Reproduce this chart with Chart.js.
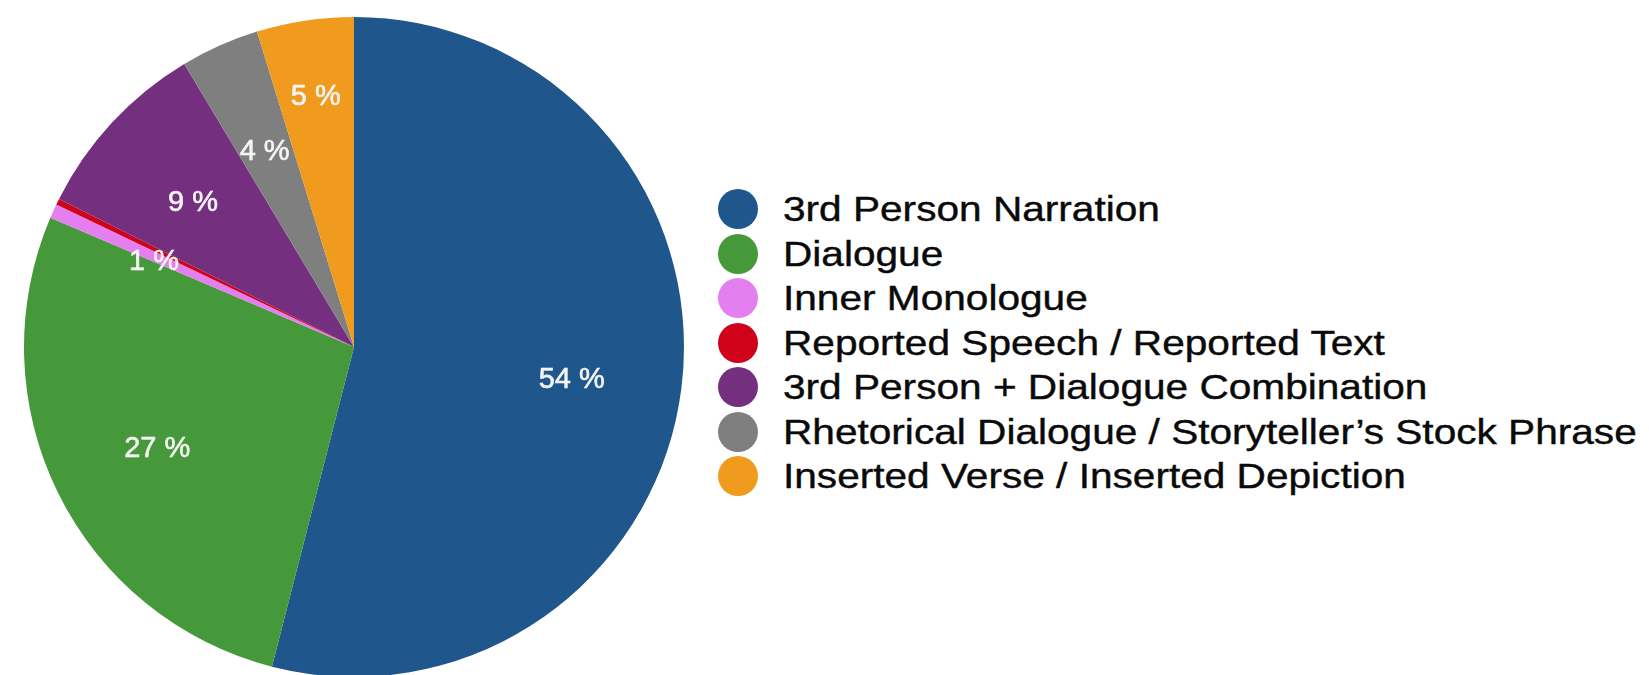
<!DOCTYPE html>
<html>
<head>
<meta charset="utf-8">
<title>Narrative modes</title>
<script src="https://cdn.jsdelivr.net/npm/chart.js@4.4.1/dist/chart.umd.min.js"></script>
<style>
  html, body { margin: 0; padding: 0; background: #fff; overflow: hidden; width: 1649px; height: 675px; }
  #wrap { position: absolute; left: 0; top: 0; width: 708px; height: 690px; }
  #legend {
    position: absolute; left: 718px; top: 187px; margin: 0; padding: 0; list-style: none;
    font-family: 'Liberation Sans', Arial, sans-serif; font-size: 35px; color: #0a0a0a;
  }
  #legend li { display: flex; align-items: center; height: 44.5px; white-space: nowrap; }
  #legend .dot { width: 40px; height: 40px; border-radius: 50%; margin-right: 25px; flex: none; }
  #legend .txt { display: inline-block; transform: scaleX(1.16); transform-origin: left center; -webkit-text-stroke: 0.4px #0a0a0a; }
</style>
</head>
<body>
<div id="wrap"><canvas id="pie" width="708" height="690"></canvas></div>
<ul id="legend"></ul>
<script>
  const categories = [
    '3rd Person Narration',
    'Dialogue',
    'Inner Monologue',
    'Reported Speech / Reported Text',
    '3rd Person + Dialogue Combination',
    'Rhetorical Dialogue / Storyteller\u2019s Stock Phrase',
    'Inserted Verse / Inserted Depiction'
  ];
  const shares = [54, 27.4, 0.7, 0.3, 9.0, 3.85, 4.75]; // percent
  const sliceColors = ['#1f568c', '#45993a', '#e47ff0', '#d0021b', '#74307f', '#7f7f7f', '#f09b1e'];

  // percentage labels inside the slices
  const sliceLabels = {
    id: 'sliceLabels',
    afterDatasetsDraw (chart, args, opts) {
      const { ctx } = chart;
      const meta = chart.getDatasetMeta(0);
      ctx.save();
      ctx.font = '29px "Liberation Sans", Arial, sans-serif';
      ctx.fillStyle = '#f4f4f4';
      ctx.strokeStyle = '#f4f4f4';
      ctx.lineWidth = 0.6;
      ctx.textAlign = 'center';
      ctx.textBaseline = 'middle';
      meta.data.forEach((arc, i) => {
        const pct = Math.round(shares[i]);
        if (!pct) return;
        const { x, y, startAngle, endAngle, outerRadius } =
          arc.getProps(['x', 'y', 'startAngle', 'endAngle', 'outerRadius'], true);
        const mid = (startAngle + endAngle) / 2;
        const r = outerRadius * (opts.radiusFor[i] || opts.radius);
        const tx = x + Math.cos(mid) * r;
        const ty = y + Math.sin(mid) * r + opts.dy;
        ctx.fillText(pct + ' %', tx, ty);
        ctx.strokeText(pct + ' %', tx, ty);
      });
      ctx.restore();
    }
  };

  // html legend built from the chart's own items
  const htmlLegend = {
    id: 'htmlLegend',
    afterUpdate (chart) {
      const ul = document.getElementById('legend');
      ul.innerHTML = '';
      const items = chart.options.plugins.legend.labels.generateLabels(chart);
      items.forEach(item => {
        const li = document.createElement('li');
        const dot = document.createElement('span');
        dot.className = 'dot';
        dot.style.background = item.fillStyle;
        const txt = document.createElement('span');
        txt.className = 'txt';
        txt.textContent = item.text;
        li.appendChild(dot);
        li.appendChild(txt);
        ul.appendChild(li);
      });
    }
  };

  new Chart(document.getElementById('pie'), {
    type: 'pie',
    data: {
      labels: categories,
      datasets: [{
        data: shares,
        backgroundColor: sliceColors,
        borderWidth: 0
      }]
    },
    options: {
      responsive: false,
      devicePixelRatio: 1,
      animation: false,
      layout: { padding: { top: 17, bottom: 13, left: 0, right: 0 } },
      plugins: {
        legend: { display: false },
        tooltip: { enabled: false },
        sliceLabels: { radius: 0.665, radiusFor: { 6: 0.78 }, dy: 5 }
      }
    },
    plugins: [sliceLabels, htmlLegend]
  });
</script>
</body>
</html>
